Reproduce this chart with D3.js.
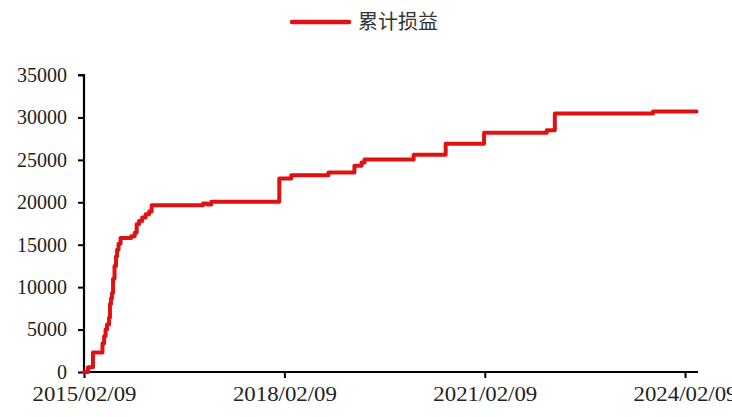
<!DOCTYPE html>
<html>
<head>
<meta charset="utf-8">
<script src="https://cdn.jsdelivr.net/npm/d3@7"></script>
<style>
  html, body { margin: 0; padding: 0; background: #fff; }
  svg { display: block; }
</style>
</head>
<body>
<div id="chart"></div>
<script>
// ---- data ----
const seriesName = "累计损益";
const dates = [
  "2015-02-09","2015-03-03","2015-03-30","2015-05-21","2015-05-30","2015-06-07",
  "2015-06-15","2015-06-26","2015-07-01","2015-07-07","2015-07-12","2015-07-18",
  "2015-07-26","2015-08-03","2015-08-09","2015-08-17","2015-08-28","2015-10-25",
  "2015-11-13","2015-11-24","2015-12-07","2015-12-24","2016-01-12","2016-01-31",
  "2016-02-14","2016-11-22","2016-12-14","2017-01-05","2018-01-12","2018-03-19",
  "2018-10-08","2019-02-27","2019-04-07","2019-04-23","2020-01-17","2020-07-10",
  "2021-02-05","2022-01-14","2022-02-27","2023-08-18","2024-04-12"
];
const values = [
  0, 550, 2300, 3400, 4200, 5000,
  5600, 6400, 8000, 8700, 9300, 11000,
  12500, 13600, 14400, 15100, 15800, 16000,
  16400, 17400, 17800, 18200, 18600, 18900,
  19650, 19850, 19750, 20050, 22800, 23200,
  23500, 24300, 24700, 25050, 25600, 26900,
  28200, 28500, 30450, 30700, 30700
];
const xTickLabels = ["2015/02/09","2018/02/09","2021/02/09","2024/02/09"];
const yTicks = [0, 5000, 10000, 15000, 20000, 25000, 30000, 35000];
const xDomain = ["2015-02-09", "2024-04-20"];

// ---- layout ----
const W = 732, H = 417;
const margin = { left: 84, right: 34, top: 75, bottom: 45 };
const parse = d3.timeParse("%Y-%m-%d");
const data = dates.map((d, i) => ({ date: parse(d), value: values[i] }));

const svg = d3.select("#chart").append("svg").attr("width", W).attr("height", H);

const x = d3.scaleTime()
  .domain(xDomain.map(parse))
  .range([margin.left, W - margin.right]);
const y = d3.scaleLinear()
  .domain([0, 35000])
  .range([H - margin.bottom, margin.top]);

const fontSerif = "'Liberation Serif', 'DejaVu Serif', serif";
const textColor = "#222";

// y axis
const yAxis = svg.append("g")
  .attr("transform", `translate(${margin.left},0)`)
  .call(d3.axisLeft(y).tickValues(yTicks).tickSize(6).tickPadding(11).tickFormat(d3.format("d")));
yAxis.select(".domain").attr("stroke", "#000").attr("stroke-width", 2.2).attr("d", `M-6,${y(35000)}H0V${y(0)}`);
yAxis.selectAll(".tick line").attr("stroke", "#000").attr("stroke-width", 2);
yAxis.selectAll(".tick text")
  .attr("font-family", fontSerif).attr("font-size", 20).attr("fill", textColor);

// x axis
const xTickDates = xTickLabels.map(s => d3.timeParse("%Y/%m/%d")(s));
const xAxis = svg.append("g")
  .attr("transform", `translate(0,${y(0)})`)
  .call(d3.axisBottom(x).tickValues(xTickDates).tickSize(6).tickPadding(9)
    .tickFormat((d, i) => xTickLabels[i]));
xAxis.select(".domain").attr("stroke", "#000").attr("stroke-width", 2.2)
  .attr("d", `M${margin.left},0H${W - margin.right}`);
xAxis.selectAll(".tick line").attr("stroke", "#000").attr("stroke-width", 2);
xAxis.selectAll(".tick text")
  .attr("font-family", fontSerif).attr("font-size", 20).attr("fill", textColor)
  .attr("textLength", 104).attr("lengthAdjust", "spacingAndGlyphs");

// line
const line = d3.line()
  .x(d => x(d.date))
  .y(d => y(d.value))
  .curve(d3.curveStepAfter);
svg.append("path")
  .datum(data)
  .attr("fill", "none")
  .attr("stroke", "#de1212")
  .attr("stroke-width", 4)
  .attr("stroke-linejoin", "round")
  .attr("stroke-linecap", "round")
  .attr("d", line);

// legend
const lg = svg.append("g");
lg.append("line")
  .attr("x1", 292).attr("x2", 349).attr("y1", 22).attr("y2", 22)
  .attr("stroke", "#de1212").attr("stroke-width", 4.5).attr("stroke-linecap", "round");
lg.append("text")
  .attr("x", 358).attr("y", 22).attr("dy", "0.35em")
  .attr("font-family", "'Noto Sans CJK SC', sans-serif")
  .attr("font-size", 20).attr("font-weight", 400).attr("fill", "#333")
  .text(seriesName);
</script>
</body>
</html>
